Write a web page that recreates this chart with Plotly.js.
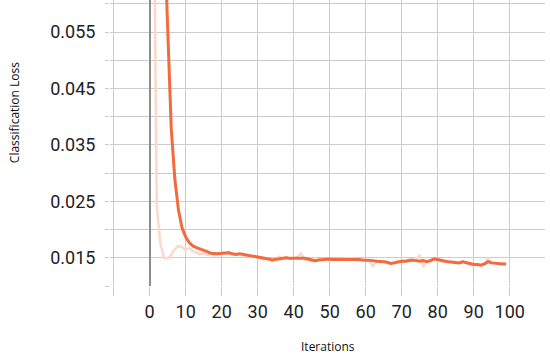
<!DOCTYPE html>
<html>
<head>
<meta charset="utf-8">
<script src="https://cdn.plot.ly/plotly-3.0.1.min.js"></script>
<style>
  html, body { margin: 0; padding: 0; background: #fff; }
  #plot { width: 550px; height: 356px; }
</style>
</head>
<body>
<div id="plot"></div>
<script>
// Smoothed loss (iterations 4..99)
const smoothX = [];
for (let i = 4; i <= 99; i++) smoothX.push(i);
const smoothLoss = [
  0.074, 0.054, 0.038, 0.029, 0.0235, 0.0203, 0.0187, 0.0177, 0.0171, 0.0168,
  0.0166, 0.0163, 0.0161, 0.0158, 0.0157, 0.0157, 0.0158, 0.0158, 0.0159, 0.0157,
  0.0156, 0.0157, 0.0156, 0.0155, 0.0153, 0.0152, 0.0152, 0.0150, 0.0149, 0.0148,
  0.0146, 0.0147, 0.0149, 0.0150, 0.0150, 0.0149, 0.0149, 0.0150, 0.0150, 0.0149,
  0.0148, 0.0146, 0.0145, 0.0146, 0.0147, 0.0148, 0.0148, 0.0147, 0.0147, 0.0147,
  0.0147, 0.0148, 0.0148, 0.0148, 0.0147, 0.0146, 0.0146, 0.0146, 0.0145, 0.0144,
  0.0144, 0.0143, 0.0142, 0.0140, 0.0141, 0.0143, 0.0144, 0.0144, 0.0145, 0.0146,
  0.0145, 0.0144, 0.0145, 0.0143, 0.0145, 0.0148, 0.0147, 0.0145, 0.0144, 0.0143,
  0.0142, 0.0142, 0.0141, 0.0143, 0.0141, 0.0139, 0.0138, 0.0138, 0.0137, 0.0139,
  0.0143, 0.0141, 0.0140, 0.0140, 0.0139, 0.0139
];

// Raw loss (iterations 1..99)
const rawX = [];
for (let i = 1; i <= 99; i++) rawX.push(i);
const rawLoss = [
  0.090, 0.024, 0.0175, 0.0150, 0.0149, 0.0155, 0.0165, 0.0171, 0.0169, 0.0164,
  0.0167, 0.0162, 0.0159, 0.0156, 0.0158, 0.0155, 0.0157, 0.0154, 0.0158, 0.0159,
  0.0157, 0.0161, 0.0155, 0.0157, 0.0158, 0.0154, 0.0155, 0.0151, 0.0153, 0.0151,
  0.0149, 0.0148, 0.0149, 0.0144, 0.0148, 0.0152, 0.0149, 0.0151, 0.0148, 0.0150,
  0.0151, 0.0158, 0.0147, 0.0147, 0.0144, 0.0144, 0.0147, 0.0148, 0.0147, 0.0149,
  0.0146, 0.0148, 0.0146, 0.0148, 0.0149, 0.0147, 0.0149, 0.0146, 0.0147, 0.0145,
  0.0147, 0.0134, 0.0145, 0.0143, 0.0144, 0.0141, 0.0139, 0.0143, 0.0144, 0.0145,
  0.0143, 0.0148, 0.0145, 0.0146, 0.0155, 0.0134, 0.0144, 0.0146, 0.0149, 0.0146,
  0.0144, 0.0145, 0.0142, 0.0143, 0.0141, 0.0142, 0.0144, 0.0140, 0.0138, 0.0139,
  0.0137, 0.0138, 0.0140, 0.0149, 0.0140, 0.0141, 0.0139, 0.0140, 0.0138
];

// Ticks
const xTickVals = [-10, 0, 10, 20, 30, 40, 50, 60, 70, 80, 90, 100];
const xTickText = ["", "0", "10", "20", "30", "40", "50", "60", "70", "80", "90", "100"];
const yTickVals = [0.010, 0.015, 0.020, 0.025, 0.030, 0.035, 0.040, 0.045, 0.050, 0.055, 0.060];
const yTickText = ["", "0.015", "", "0.025", "", "0.035", "", "0.045", "", "0.055", ""];

const rawTrace = {
  x: rawX,
  y: rawLoss,
  mode: "lines",
  line: { color: "#fdd8ca", width: 2.5 },
  hoverinfo: "skip"
};

const smoothTrace = {
  x: smoothX,
  y: smoothLoss,
  mode: "lines",
  line: { color: "#f36a3d", width: 3 }
};

Plotly.newPlot(
  "plot",
  [rawTrace, smoothTrace],
  {
    width: 550,
    height: 356,
    margin: { t: 0, r: 5, l: 110, b: 70 },
    paper_bgcolor: "white",
    plot_bgcolor: "white",
    showlegend: false,
    font: { family: "Roboto, sans-serif", color: "#222" },
    xaxis: {
      range: [-11.0, 109.8],
      tickvals: xTickVals,
      ticktext: xTickText,
      ticks: "outside",
      ticklen: 9,
      tickcolor: "#cccccc",
      showgrid: true,
      gridcolor: "#cccccc",
      zeroline: true,
      zerolinecolor: "#8c8c8c",
      zerolinewidth: 2,
      showline: false,
      tickfont: { size: 18, color: "#222" }
    },
    yaxis: {
      range: [0.010, 0.0607],
      tickvals: yTickVals,
      ticktext: yTickText,
      ticks: "outside",
      ticklen: 4,
      tickcolor: "#cccccc",
      ticklabelstandoff: 6,
      showgrid: true,
      gridcolor: "#cccccc",
      zeroline: false,
      showline: false,
      tickfont: { size: 18, color: "#222" }
    },
    annotations: [
      {
        text: "Classification Loss",
        xref: "paper", yref: "paper",
        x: -0.218, y: 0.605,
        xanchor: "center", yanchor: "middle",
        textangle: -90,
        showarrow: false,
        font: { family: "Open Sans, sans-serif", size: 12, color: "#111" }
      },
      {
        text: "Iterations",
        xref: "paper", yref: "paper",
        x: 0.5, y: -0.212,
        xanchor: "center", yanchor: "middle",
        showarrow: false,
        font: { family: "Open Sans, sans-serif", size: 12, color: "#111" }
      }
    ]
  },
  { displayModeBar: false, staticPlot: true }
);
</script>
</body>
</html>
